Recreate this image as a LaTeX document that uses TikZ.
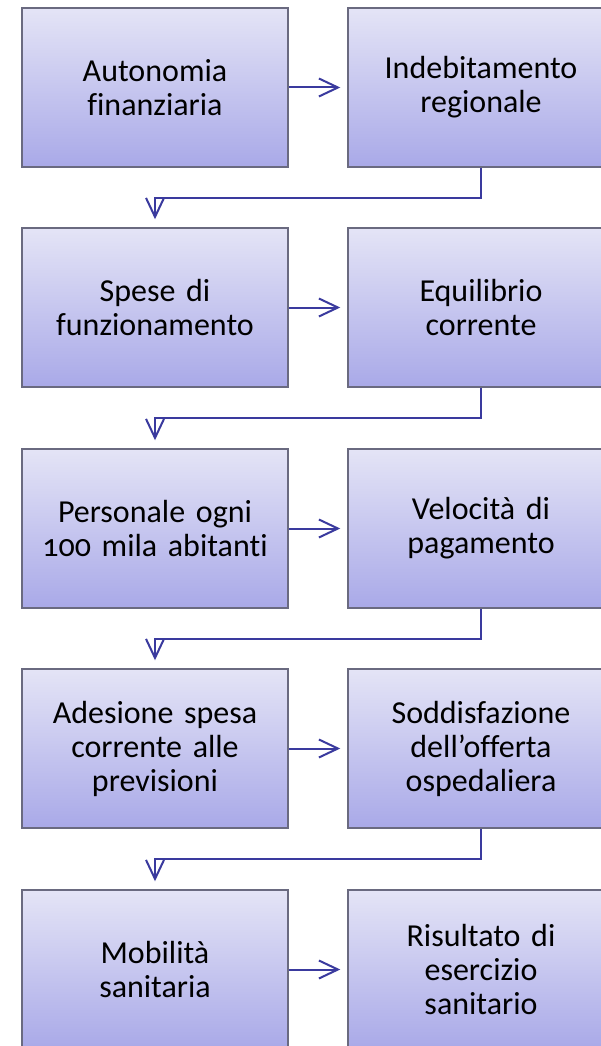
\documentclass[tikz,border=0pt]{standalone}
\usepackage{fontspec}
\setmainfont{Carlito}[Numbers=OldStyle, Ligatures=NoCommon, WordSpace={0.7,0.5,0.5}]
\usetikzlibrary{arrows.meta}
\definecolor{boxtop}{HTML}{E4E4F6}
\definecolor{boxbot}{HTML}{A9A9E8}
\definecolor{boxline}{HTML}{6A6A80}
\definecolor{arrowcol}{HTML}{3A3A9E}
\tikzset{
  stepbox/.style={rectangle, draw=boxline, line width=1.5pt, top color=boxtop, bottom color=boxbot,
    minimum width=266pt, minimum height=159pt, inner sep=0pt, text width=250pt, align=center,
    font=\fontsize{32pt}{34pt}\selectfont},
  flow/.style={draw=arrowcol, line width=2pt, -{Straight Barb[length=19pt,width=18pt]}},
}
\begin{document}
\begin{tikzpicture}[x=1pt,y=-1pt]
\useasboundingbox (0,0) rectangle (601,1046);
\clip (0,0) rectangle (601,1046);
\fill[white] (0,0) rectangle (601,1046);
\node[stepbox] (l1) at (155,87.5) {Autonomia\\finanziaria};
\node[stepbox] (r1) at (481,87.5) {Indebitamento\\regionale};
\node[stepbox] (l2) at (155,307.5) {Spese di\\funzionamento};
\node[stepbox] (r2) at (481,307.5) {Equilibrio\\corrente};
\node[stepbox] (l3) at (155,528.5) {Personale ogni\\100 mila abitanti};
\node[stepbox] (r3) at (481,528.5) {Velocità di\\pagamento};
\node[stepbox] (l4) at (155,748.5) {Adesione spesa\\corrente alle\\previsioni};
\node[stepbox] (r4) at (481,748.5) {Soddisfazione\\dell’offerta\\ospedaliera};
\node[stepbox] (l5) at (155,969.5) {Mobilità\\sanitaria};
\node[stepbox] (r5) at (481,969.5) {Risultato di\\esercizio\\sanitario};
\foreach \i in {1,...,5}{
  \draw[flow, shorten >=7pt] (l\i.east) -- (r\i.west);
}
\foreach \i/\j in {1/2,2/3,3/4,4/5}{
  \draw[flow, shorten >=8pt] (r\i.south) -- ++(0,30) -| (l\j.north);
}
\end{tikzpicture}
\end{document}
